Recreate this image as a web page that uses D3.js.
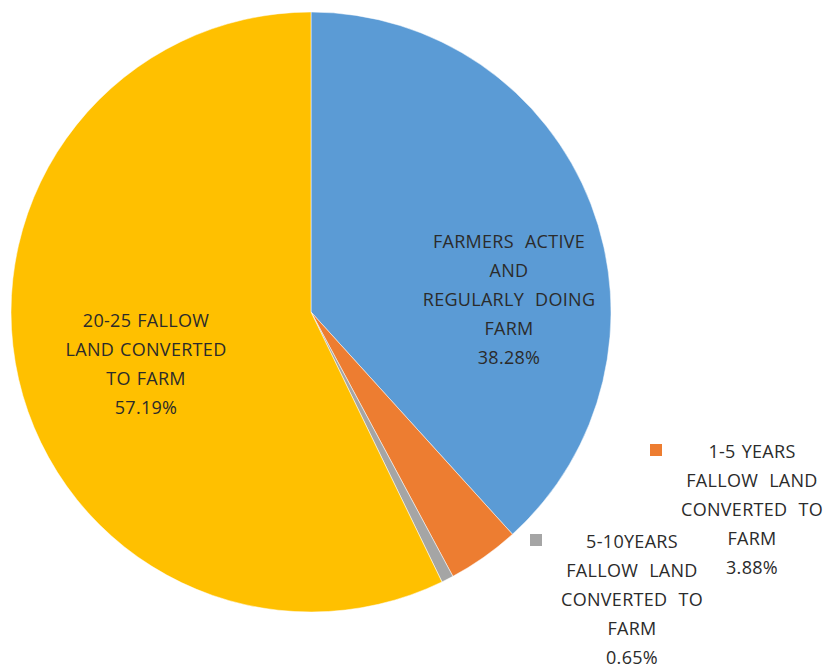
<!DOCTYPE html>
<html lang="en">
<head>
<meta charset="UTF-8">
<title>Fallow land pie</title>
<script src="https://d3js.org/d3.v7.min.js"></script>
<style>
  body { margin: 0; background: #fff; }
  text { font-family: "Open Sans", Lato, sans-serif; }
</style>
</head>
<body>
<script>
    // data
    var categories = ["FARMERS ACTIVE AND REGULARLY DOING FARM",
                      "1-5 YEARS FALLOW LAND CONVERTED TO FARM",
                      "5-10 YEARS FALLOW LAND CONVERTED TO FARM",
                      "20-25 FALLOW LAND CONVERTED TO FARM"];
    var values = [38.28, 3.88, 0.65, 57.19];
    var colors = ["#5B9BD5", "#ED7D31", "#A5A5A5", "#FFC000"];
    var labelLines = [
        ["FARMERS ACTIVE", "AND", "REGULARLY DOING", "FARM"],
        ["1-5 YEARS", "FALLOW LAND", "CONVERTED TO", "FARM"],
        ["5-10YEARS", "FALLOW LAND", "CONVERTED TO", "FARM"],
        ["20-25 FALLOW", "LAND CONVERTED", "TO FARM"]
    ];

    var w = 835, h = 670;
    var cx = 311, cy = 312, r = 300;

    // label box centre (relative to pie centre) and whether a legend key is shown
    var labelLayout = [
        { dx: 198, dy: -12, key: false, ws: 6 },
        { dx: 441, dy: 198, key: true, ws: 6 },
        { dx: 321, dy: 288, key: true, ws: 6 },
        { dx: -165, dy: 52, key: false, ws: 1 }
    ];

    var svg = d3.select("body").append("svg")
        .attr("width", w)
        .attr("height", h);

    var pie = d3.pie().sort(null).value(function(d) { return d; });
    var arc = d3.arc().innerRadius(0).outerRadius(r);

    var g = svg.append("g").attr("transform", "translate(" + cx + "," + cy + ")");

    g.selectAll("path")
        .data(pie(values))
        .enter()
        .append("path")
        .attr("d", arc)
        .attr("fill", function(d, i) { return colors[i]; })
        .attr("stroke", "#fff")
        .attr("stroke-width", 0.5);

    var lineH = 29;
    var labels = g.selectAll("g.label")
        .data(values)
        .enter()
        .append("g")
        .attr("class", "label")
        .attr("transform", function(d, i) {
            return "translate(" + labelLayout[i].dx + "," + labelLayout[i].dy + ")";
        });

    labels.each(function(d, i) {
        var sel = d3.select(this);
        var lines = labelLines[i].concat([d.toFixed(2) + "%"]);
        var y0 = -(lines.length - 1) * lineH / 2;
        lines.forEach(function(t, j) {
            sel.append("text")
                .attr("x", 0)
                .attr("y", y0 + j * lineH)
                .attr("dy", "0.35em")
                .attr("text-anchor", "middle")
                .attr("font-size", "18px")
                .attr("letter-spacing", "0.3px")
                .attr("word-spacing", (t === "1-5 YEARS" ? 1 : labelLayout[i].ws) + "px")
                .attr("fill", "#2b2b2b")
                .text(t);
        });
        if (labelLayout[i].key) {
            sel.append("rect")
                .attr("x", -102)
                .attr("y", y0 - 8)
                .attr("width", 12)
                .attr("height", 12)
                .attr("fill", colors[i]);
        }
    });
</script>
</body>
</html>
